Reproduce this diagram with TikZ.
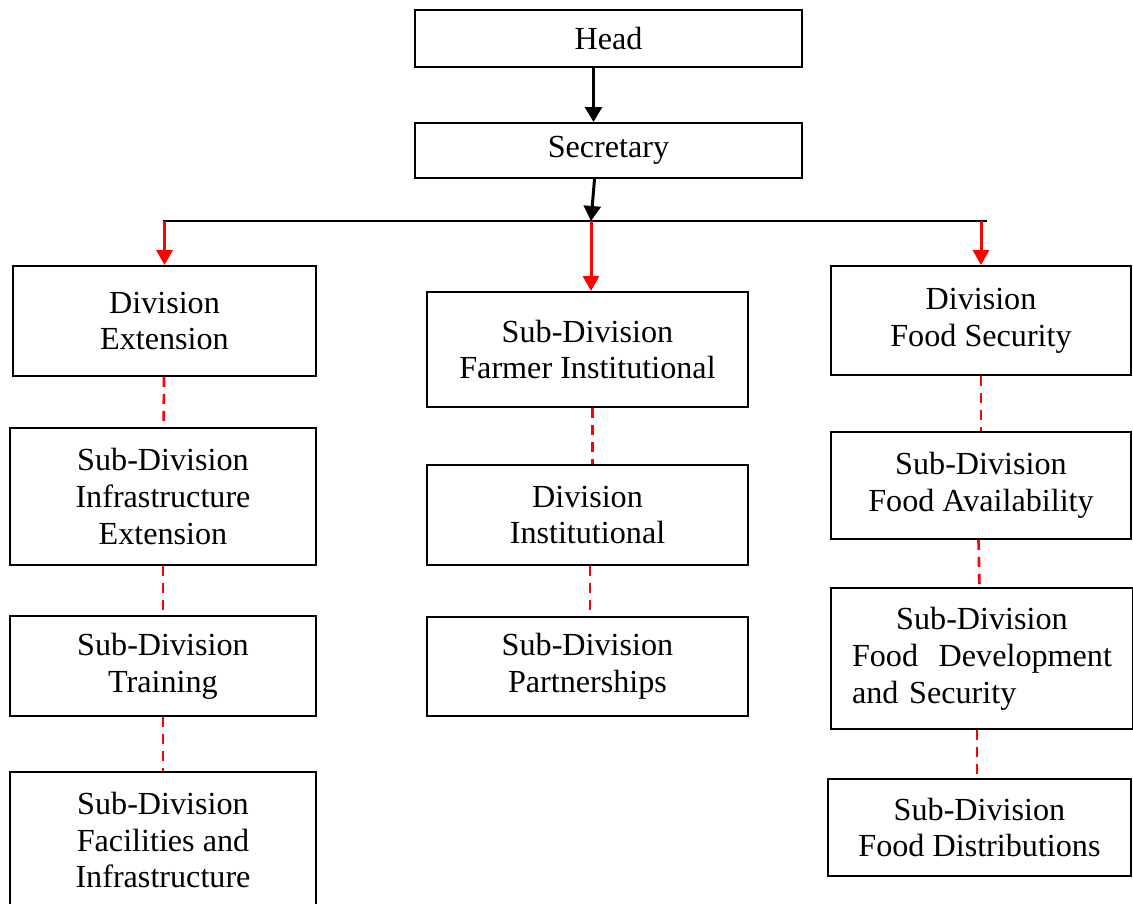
\documentclass[tikz,border=0pt]{standalone}
\usepackage{fontspec}
\setmainfont{Liberation Serif}
\usepackage{tikz}
\usetikzlibrary{arrows.meta}

\begin{document}
\begin{tikzpicture}[
    box/.style={draw,line width=1.1pt,align=center,inner sep=2pt,
        font=\fontsize{18.3}{21}\selectfont},
    solid arrow/.style={line width=1.7pt,-{Triangle[length=0.3cm,width=0.34cm]}},
    red arrow/.style={red,line width=1.7pt,-{Triangle[length=0.3cm,width=0.32cm]}},
    red dash/.style={red,line width=1.5pt,dash pattern=on 0.2cm off 0.14cm}
]
        % 画布大小
        \useasboundingbox (0,0) rectangle (22.66,-18.08);

        % 顶部
        \node[box,minimum width=7.74cm,minimum height=1.14cm] (head) at (12.17,-0.77) {Head};
        \node[box,minimum width=7.74cm,minimum height=1.10cm] (secr) at (12.17,-3.01) {Secretary};

        % 横线
        \coordinate (barL) at (3.26,-4.42);
        \coordinate (barR) at (19.74,-4.42);
        \coordinate (barM) at (11.82,-4.42);
        \draw[line width=1.1pt] (barL) -- (barR);

        % 左列
        \node[box,minimum width=6.06cm,minimum height=2.20cm] (divext) at (3.29,-6.42) {Division\\Extension};
        \node[box,minimum width=6.12cm,minimum height=2.74cm] (infra) at (3.26,-9.93) {Sub-Division\\Infrastructure\\Extension};
        \node[box,minimum width=6.12cm,minimum height=2.00cm] (train) at (3.26,-13.32) {Sub-Division\\Training};
        \node[box,minimum width=6.12cm,minimum height=2.72cm] (facil) at (3.26,-16.80) {Sub-Division\\Facilities and\\Infrastructure};

        % 中列
        \node[box,minimum width=6.42cm,minimum height=2.30cm] (farmer) at (11.75,-6.99) {Sub-Division\\Farmer Institutional};
        \node[box,minimum width=6.42cm,minimum height=2.00cm] (divinst) at (11.75,-10.30) {Division\\Institutional};
        \node[box,minimum width=6.42cm,minimum height=1.98cm] (partner) at (11.75,-13.33) {Sub-Division\\Partnerships};

        % 右列
        \node[box,minimum width=6.00cm,minimum height=2.18cm] (foodsec) at (19.62,-6.41) {Division\\Food Security};
        \node[box,minimum width=6.00cm,minimum height=2.14cm] (avail) at (19.62,-9.71) {Sub-Division\\Food Availability};
        \node[box,minimum width=6.04cm,minimum height=2.82cm,text width=5.2cm,align=left] (fooddev) at (19.64,-13.17)
            {\hfill Sub-Division\hfill\null\\Food\hfill Development\\and Security};
        \node[box,minimum width=6.06cm,minimum height=1.94cm] (distr) at (19.59,-16.55) {Sub-Division\\Food Distributions};

        % 箭头
        \draw[solid arrow] ([xshift=-0.3cm]head.south) -- ([xshift=-0.3cm]secr.north);
        \draw[solid arrow] ([xshift=-0.28cm]secr.south) -- (barM);
        \draw[red arrow] (divext.north |- barL) -- (divext.north);
        \draw[red arrow] (barM) -- (barM |- farmer.north);
        \draw[red arrow] (foodsec.north |- barR) -- (foodsec.north);

        % 虚线
        \draw[red dash] (divext) -- (infra);
        \draw[red dash] (infra) -- (train);
        \draw[red dash] (train) -- (facil);
        \draw[red dash] ([xshift=0.1cm]farmer.south) -- ([xshift=0.1cm]divinst.north);
        \draw[red dash] ([xshift=0.05cm]divinst.south) -- ([xshift=0.05cm]partner.north);
        \draw[red dash] (foodsec) -- (avail);
        \draw[red dash] ([xshift=-0.05cm]avail.south) -- ([xshift=-0.05cm]fooddev.north);
        \draw[red dash] ([xshift=-0.1cm]fooddev.south) -- ([xshift=-0.1cm]fooddev.south |- distr.north);
    \end{tikzpicture}
\end{document}
